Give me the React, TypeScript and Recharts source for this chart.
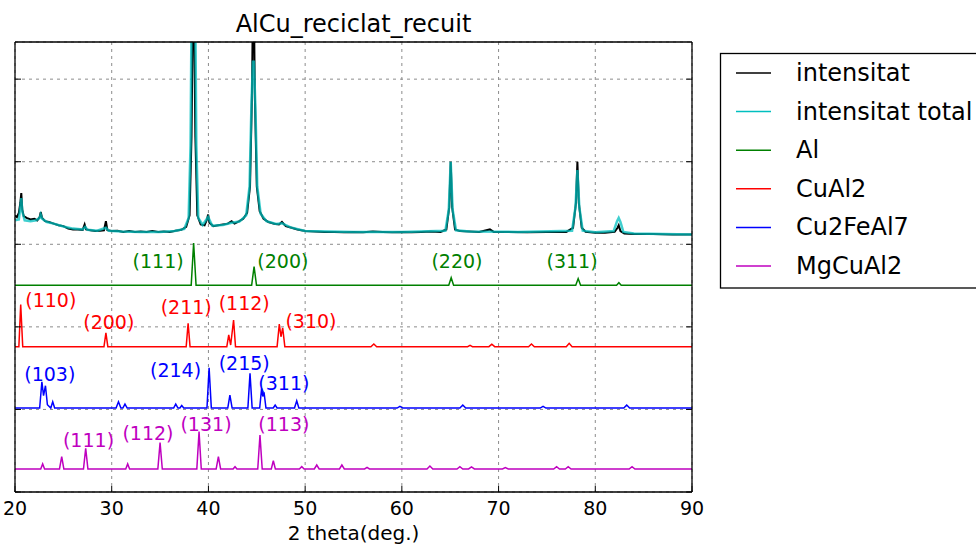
import React from 'react';
import { LineChart, Line, XAxis, YAxis, CartesianGrid, ReferenceDot } from 'recharts';

const FONT = '"DejaVu Sans", sans-serif';

const xTicks = [20, 30, 40, 50, 60, 70, 80, 90];
const yTicks = [0, 1000, 2000, 3000, 4000, 5000];

// measured pattern [2theta, counts]
const intensitat: [number, number][] = [
  [20.0, 3350], [20.2, 3330], [20.4, 3380], [20.55, 3500], [20.65, 3620], [20.75, 3420], [20.9, 3340],
  [21.2, 3320], [21.6, 3300], [22.0, 3310], [22.3, 3290], [22.55, 3330], [22.66, 3390], [22.8, 3320],
  [23.1, 3280], [23.5, 3270], [24.0, 3250], [24.5, 3230], [25.0, 3220], [25.5, 3190], [26.0, 3180],
  [26.5, 3180], [27.0, 3175], [27.2, 3240], [27.35, 3180], [27.8, 3170], [28.3, 3160], [28.8, 3165],
  [29.2, 3170], [29.4, 3280], [29.55, 3170], [30.0, 3160], [30.6, 3165], [31.2, 3150], [31.8, 3160],
  [32.4, 3150], [33.0, 3155], [33.6, 3150], [34.2, 3160], [34.8, 3150], [35.4, 3155], [36.0, 3150],
  [36.6, 3165], [37.2, 3175], [37.7, 3210], [38.05, 3350], [38.25, 4300], [38.45, 6500], [38.65, 4300],
  [38.85, 3350], [39.2, 3240], [39.6, 3230], [39.85, 3300], [39.97, 3360], [40.1, 3260], [40.5, 3220],
  [41.0, 3230], [41.5, 3240], [42.0, 3250], [42.4, 3280], [42.7, 3250], [43.2, 3280], [43.6, 3310],
  [44.0, 3380], [44.3, 3700], [44.5, 4800], [44.65, 6500], [44.8, 4800], [45.0, 3700], [45.3, 3400],
  [45.7, 3310], [46.2, 3270], [46.8, 3250], [47.3, 3240], [47.6, 3270], [48.0, 3220], [48.6, 3200],
  [49.2, 3180], [50.0, 3160], [51.0, 3155], [52.0, 3150], [53.0, 3150], [54.0, 3145], [55.0, 3150],
  [56.0, 3145], [57.0, 3155], [58.0, 3150], [59.0, 3145], [60.0, 3150], [61.0, 3145], [62.0, 3150],
  [63.0, 3155], [64.0, 3150], [64.6, 3180], [64.9, 3450], [65.05, 4000], [65.2, 3450], [65.5, 3180],
  [66.0, 3160], [67.0, 3155], [68.0, 3150], [69.1, 3180], [69.5, 3150], [71.0, 3150], [73.0, 3145],
  [75.0, 3150], [77.0, 3150], [77.7, 3200], [78.0, 3500], [78.15, 4000], [78.3, 3500], [78.6, 3200],
  [79.0, 3150], [80.0, 3140], [81.0, 3140], [82.0, 3150], [82.3, 3200], [82.42, 3230], [82.6, 3160],
  [83.0, 3130], [84.0, 3125], [86.0, 3125], [88.0, 3120], [90.0, 3120],
];

// calculated total pattern
const intensitatTotal: [number, number][] = [
  [20.0, 3290], [20.4, 3300], [20.55, 3450], [20.65, 3560], [20.75, 3400], [21.0, 3290], [21.6, 3280],
  [22.2, 3290], [22.55, 3320], [22.66, 3360], [22.8, 3310], [23.3, 3270], [24.0, 3250], [25.0, 3215],
  [26.0, 3190], [27.0, 3180], [27.25, 3210], [27.5, 3175], [28.5, 3165], [29.4, 3200], [29.7, 3165],
  [31.0, 3155], [33.0, 3150], [35.0, 3150], [36.5, 3160], [37.5, 3185], [37.95, 3320], [38.15, 4200],
  [38.3, 6500], [38.6, 6500], [38.75, 4200], [38.95, 3320], [39.4, 3235], [39.97, 3330], [40.4, 3225],
  [41.5, 3235], [42.4, 3260], [43.2, 3275], [43.9, 3350], [44.25, 3700], [44.45, 4700], [44.6, 5210],
  [44.7, 5210], [44.85, 4700], [45.05, 3700], [45.4, 3370], [46.0, 3280], [47.0, 3245], [47.6, 3255],
  [48.5, 3205], [50.0, 3160], [55.0, 3150], [60.0, 3150], [64.5, 3165], [64.85, 3420], [65.05, 4000],
  [65.25, 3420], [65.6, 3170], [67.0, 3155], [72.0, 3150], [77.6, 3165], [77.95, 3450], [78.15, 3900],
  [78.35, 3450], [78.7, 3165], [80.0, 3145], [81.9, 3160], [82.25, 3280], [82.42, 3320], [82.6, 3270],
  [82.9, 3150], [84.0, 3130], [90.0, 3120],
];

// phase patterns, relative to their offset baseline
const alOffset = 2505;
const al: [number, number][] = [
  [20, 0], [38.22, 0], [38.47, 510], [38.72, 0], [44.47, 0], [44.72, 225], [44.97, 0], [64.85, 0],
  [65.1, 90], [65.35, 0], [77.98, 0], [78.23, 80], [78.48, 0], [82.2, 0], [82.44, 30], [82.68, 0], [90, 0],
];

const cual2Offset = 1760;
const cual2: [number, number][] = [
  [20, 0], [20.4, 0], [20.59, 510], [20.8, 0], [29.2, 0], [29.4, 166], [29.6, 0], [37.7, 0], [37.9, 283],
  [38.1, 0], [41.9, 0], [42.1, 142], [42.3, 20], [42.6, 323], [42.8, 0], [47.1, 0], [47.33, 275],
  [47.5, 120], [47.68, 226], [47.9, 0], [56.8, 0], [57.1, 33], [57.4, 0], [66.8, 0], [67.05, 15],
  [67.3, 0], [69.0, 0], [69.3, 29], [69.6, 0], [73.1, 0], [73.4, 33], [73.7, 0], [77.0, 0], [77.3, 41],
  [77.6, 0], [90, 0],
];

const cu2feal7Offset = 1017;
const cu2feal7: [number, number][] = [
  [20, 0], [22.55, 0], [22.78, 318], [22.95, 150], [23.15, 270], [23.35, 40], [23.7, 0], [23.9, 76],
  [24.1, 0], [30.45, 0], [30.7, 76], [30.95, 0], [31.15, 0], [31.37, 48], [31.6, 0], [36.4, 0],
  [36.62, 48], [36.85, 0], [37.05, 0], [37.24, 30], [37.45, 0], [39.85, 0], [40.07, 488], [40.3, 0],
  [42.0, 0], [42.22, 157], [42.45, 0], [44.08, 0], [44.3, 420], [44.52, 0], [45.3, 0], [45.5, 238],
  [45.62, 140], [45.75, 190], [45.95, 0], [46.7, 0], [46.9, 36], [47.1, 0], [48.9, 0], [49.13, 88],
  [49.35, 0], [59.5, 0], [59.8, 20], [60.1, 0], [66.0, 0], [66.3, 36], [66.6, 0], [74.3, 0], [74.6, 20],
  [74.9, 0], [82.95, 0], [83.25, 36], [83.55, 0], [90, 0],
];

const mgcual2Offset = 279;
const mgcual2: [number, number][] = [
  [20, 0], [22.66, 0], [22.86, 61], [23.06, 0], [24.6, 0], [24.83, 149], [25.05, 0], [27.08, 0],
  [27.31, 250], [27.54, 0], [31.45, 0], [31.65, 61], [31.85, 0], [34.77, 0], [35.0, 319], [35.23, 0],
  [38.8, 0], [39.03, 452], [39.26, 0], [40.8, 0], [41.03, 149], [41.26, 0], [42.55, 0], [42.75, 28],
  [42.95, 0], [45.1, 0], [45.33, 412], [45.56, 0], [46.5, 0], [46.71, 100], [46.92, 0], [49.4, 0],
  [49.65, 28], [49.9, 0], [50.95, 0], [51.2, 48], [51.45, 0], [53.55, 0], [53.8, 48], [54.05, 0],
  [56.15, 0], [56.4, 20], [56.65, 0], [62.6, 0], [62.9, 36], [63.2, 0], [65.7, 0], [66.0, 28], [66.3, 0],
  [66.9, 0], [67.2, 24], [67.5, 0], [70.4, 0], [70.7, 16], [71.0, 0], [75.7, 0], [76.0, 28], [76.3, 0],
  [76.9, 0], [77.2, 28], [77.5, 0], [83.5, 0], [83.8, 28], [84.1, 0], [90, 0],
];

// hkl labels: [text, 2theta, counts]
const alHkl: [string, number, number][] = [
  ['(111)', 34.8, 2790], ['(200)', 47.7, 2790], ['(220)', 65.7, 2790], ['(311)', 77.6, 2800],
];
const cual2Hkl: [string, number, number][] = [
  ['(110)', 23.7, 2325], ['(200)', 29.7, 2060], ['(211)', 37.7, 2240], ['(112)', 43.7, 2290], ['(310)', 50.6, 2070],
];
const cu2feal7Hkl: [string, number, number][] = [
  ['(103)', 23.6, 1430], ['(214)', 36.6, 1477], ['(215)', 43.7, 1562], ['(311)', 47.8, 1320],
];
const mgcual2Hkl: [string, number, number][] = [
  ['(111)', 27.6, 630], ['(112)', 33.75, 714], ['(131)', 39.75, 823], ['(113)', 47.8, 823],
];

const toRows = (pts: [number, number][], offset = 0) => pts.map(([x, y]) => ({ x, y: y + offset }));

const series = [
  { name: 'intensitat', color: '#000000', width: 2, data: toRows(intensitat) },
  { name: 'intensitat total', color: '#00bfbf', width: 2.5, data: toRows(intensitatTotal), opacity: 0.75 },
  { name: 'Al', color: '#008000', width: 1.5, data: toRows(al, alOffset), hkl: alHkl },
  { name: 'CuAl2', color: '#ff0000', width: 1.5, data: toRows(cual2, cual2Offset), hkl: cual2Hkl },
  { name: 'Cu2FeAl7', color: '#0000ff', width: 1.5, data: toRows(cu2feal7, cu2feal7Offset), hkl: cu2feal7Hkl },
  { name: 'MgCuAl2', color: '#bf00bf', width: 1.5, data: toRows(mgcual2, mgcual2Offset), hkl: mgcual2Hkl },
];

const noLabel = () => '';

export default function App() {
  return (
    <div style={{ position: 'absolute', left: 0, top: 0, width: 976, height: 549, overflow: 'hidden', background: '#fff' }}>
      <LineChart width={976} height={549} margin={{ top: 41, right: 283, bottom: 7, left: 14 }}>
        <CartesianGrid stroke="#8c8c8c" strokeDasharray="3 4" strokeWidth={1} />
        <XAxis
          dataKey="x"
          type="number"
          domain={[20, 90]}
          ticks={xTicks}
          allowDataOverflow
          height={50}
          tickSize={-6}
          tickMargin={16}
          axisLine={{ stroke: '#000', strokeWidth: 1.3 }}
          tickLine={{ stroke: '#000' }}
          tick={{ fontSize: 19, fill: '#000', fontFamily: FONT }}
          label={{ value: '2 theta(deg.)', position: 'insideBottom', offset: 2, fontSize: 20, fill: '#000', fontFamily: FONT }}
        />
        <XAxis
          xAxisId="top"
          orientation="top"
          type="number"
          domain={[20, 90]}
          ticks={xTicks}
          allowDataOverflow
          height={1}
          tickSize={-6}
          tickFormatter={noLabel}
          axisLine={{ stroke: '#000', strokeWidth: 1.3 }}
          tickLine={{ stroke: '#000' }}
        />
        <YAxis
          type="number"
          domain={[0, 5450]}
          ticks={yTicks}
          allowDataOverflow
          width={1}
          tickSize={-6}
          tickFormatter={noLabel}
          axisLine={{ stroke: '#000', strokeWidth: 1.3 }}
          tickLine={{ stroke: '#000' }}
        />
        <YAxis
          yAxisId="right"
          orientation="right"
          type="number"
          domain={[0, 5450]}
          ticks={yTicks}
          allowDataOverflow
          width={1}
          tickSize={-6}
          tickFormatter={noLabel}
          axisLine={{ stroke: '#000', strokeWidth: 1.3 }}
          tickLine={{ stroke: '#000' }}
        />
        {series.map((s) => (
          <Line
            key={s.name}
            name={s.name}
            data={s.data}
            dataKey="y"
            type="linear"
            stroke={s.color}
            strokeWidth={s.width}
            strokeOpacity={s.opacity ?? 1}
            dot={false}
            activeDot={false}
            isAnimationActive={false}
          />
        ))}
        {series.flatMap((s) =>
          (s.hkl ?? []).map(([text, x, y]) => (
            <ReferenceDot
              key={s.name + text + x}
              x={x}
              y={y}
              r={0}
              fill="none"
              stroke="none"
              label={{ value: text, position: 'center', fill: s.color, fontSize: 19, fontFamily: FONT }}
            />
          ))
        )}
      </LineChart>
      <svg width={976} height={549} style={{ position: 'absolute', left: 0, top: 0, pointerEvents: 'none' }}>
        <text x={353.5} y={32} textAnchor="middle" fontSize={24} fontFamily={FONT} fill="#000">
          AlCu_reciclat_recuit
        </text>
        <rect x={720.5} y={53.5} width={290} height={234.5} fill="#fff" stroke="#000" strokeWidth={1.3} />
        {series.map((s, i) => {
          const y = 73 + i * 38.6;
          return (
            <g key={s.name}>
              <line x1={736} x2={771} y1={y} y2={y} stroke={s.color} strokeWidth={1.5} />
              <text x={796} y={y + 8} fontSize={24} fontFamily={FONT} fill="#000">
                {s.name}
              </text>
            </g>
          );
        })}
      </svg>
    </div>
  );
}
